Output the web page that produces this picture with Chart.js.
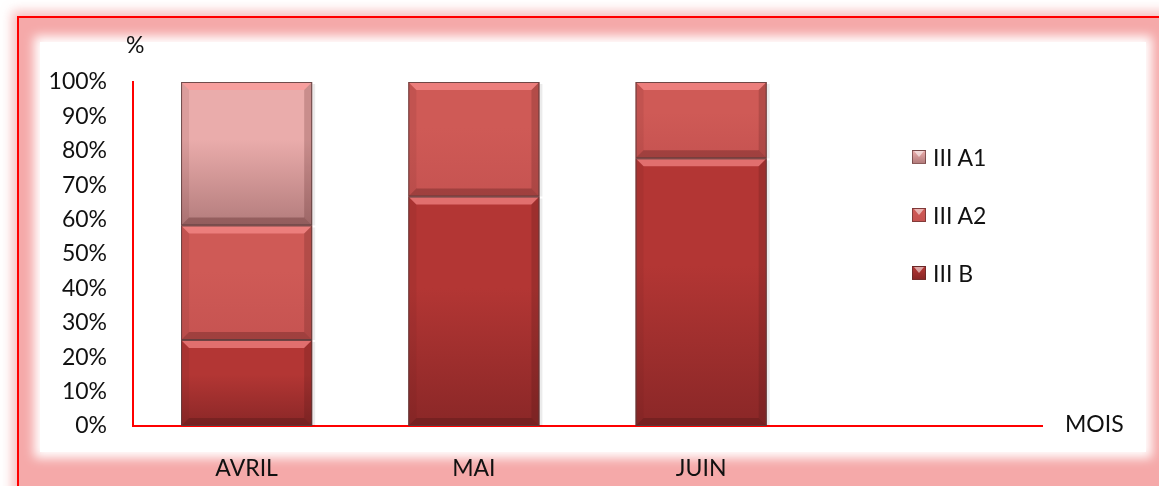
<!DOCTYPE html>
<html>
<head>
<meta charset="utf-8">
<script src="https://cdn.jsdelivr.net/npm/chart.js@4.4.1/dist/chart.umd.min.js"></script>
<style>
  html, body { margin: 0; padding: 0; background: #fff; overflow: hidden; }
  #wrap { position: relative; width: 1159px; height: 486px; overflow: hidden; background: #fff; }
  #frame {
    position: absolute; left: 17px; top: 16px; width: 1170px; height: 490px;
    border: 2px solid #ff0000; background: #f5a9a9;
    box-shadow: 0 0 10px 5px rgba(244, 165, 165, 0.7);
  }
  #inner {
    position: absolute; left: 40px; top: 42px; width: 1106px; height: 410px;
    background: #fff; box-shadow: 0 0 10px 6px #fff;
  }
  #chart { position: absolute; left: 0; top: 0; }
  #legend { position: absolute; left: 912px; top: 128px; font-family: Lato, sans-serif; font-size: 23px; color: #111; }
  .item { display: flex; align-items: center; height: 58px; }
  .box { width: 14px; height: 14px; margin-right: 7px; position: relative; box-sizing: border-box; border: 1px solid rgba(80,40,40,0.6); }
  .box::after { content: ""; position: absolute; left: 1px; top: 0; border-left: 5px solid transparent; border-right: 5px solid transparent; border-top: 6px solid rgba(255,255,255,0.55); }
</style>
</head>
<body>
<div id="wrap">
  <div id="frame"></div>
  <div id="inner"></div>
  <canvas id="chart" width="1159" height="486"></canvas>
  <div id="legend"></div>
</div>
<script>
// data (percent of each month)
const months = ['AVRIL', 'MAI', 'JUIN', ''];
const seriesNames = ['III B', 'III A2', 'III A1'];
const valuesB = [25, 66.7, 77.8, null];
const valuesA2 = [33.3, 33.3, 22.2, null];
const valuesA1 = [41.7, 0, 0, null];
const yTicks = [0, 10, 20, 30, 40, 50, 60, 70, 80, 90, 100];
const allSeries = [valuesB, valuesA2, valuesA1];

const topColors = ['#b33634', '#cf5a56', '#eaacab'];
const bottomColors = ['#8a2727', '#c65351', '#b37c7c'];

// gradient running over each segment, from its top to its base
function gradientFor(i) {
  return function (ctx) {
    const chart = ctx.chart;
    const y = chart.scales && chart.scales.y;
    if (!y || ctx.dataIndex === undefined) return topColors[i];
    let start = 0;
    for (let k = 0; k < i; k++) start += allSeries[k][ctx.dataIndex] || 0;
    const end = start + (allSeries[i][ctx.dataIndex] || 0);
    const p0 = y.getPixelForValue(end), p1 = y.getPixelForValue(start);
    if (!isFinite(p0) || !isFinite(p1) || p0 === p1) return topColors[i];
    const g = chart.ctx.createLinearGradient(0, p0, 0, p1);
    g.addColorStop(0, topColors[i]);
    g.addColorStop(0.4, topColors[i]);
    g.addColorStop(1, bottomColors[i]);
    return g;
  };
}

// bevel look on each bar segment
const bevel = {
  id: 'bevel',
  afterDatasetsDraw(chart) {
    const c = chart.ctx;
    chart.data.datasets.forEach((ds, di) => {
      chart.getDatasetMeta(di).data.forEach((bar, i) => {
        const v = ds.data[i];
        if (!v) return;
        const p = bar.getProps(['x', 'y', 'base', 'width'], true);
        const l = p.x - p.width / 2, r = p.x + p.width / 2, t = p.y, b = p.base;
        const d = 8;
        c.save();
        c.fillStyle = 'rgba(255,150,150,0.6)';
        c.beginPath(); c.moveTo(l, t); c.lineTo(r, t); c.lineTo(r - d, t + d); c.lineTo(l + d, t + d); c.closePath(); c.fill();
        c.fillStyle = 'rgba(70,20,20,0.3)';
        c.beginPath(); c.moveTo(l, b); c.lineTo(r, b); c.lineTo(r - d, b - d); c.lineTo(l + d, b - d); c.closePath(); c.fill();
        c.fillStyle = 'rgba(90,30,30,0.1)';
        c.beginPath(); c.moveTo(l, t); c.lineTo(l + d, t + d); c.lineTo(l + d, b - d); c.lineTo(l, b); c.closePath(); c.fill();
        c.fillStyle = 'rgba(70,20,20,0.2)';
        c.beginPath(); c.moveTo(r, t); c.lineTo(r - d, t + d); c.lineTo(r - d, b - d); c.lineTo(r, b); c.closePath(); c.fill();
        c.strokeStyle = 'rgba(90,60,60,0.85)';
        c.lineWidth = 1;
        c.strokeRect(l + 0.5, t + 0.5, p.width - 1, b - t - 1);
        c.fillStyle = 'rgba(0,0,0,0.08)';
        c.fillRect(r, t + 2, 3, b - t - 2);
        c.restore();
      });
    });
  }
};

// axis captions: "%" above the y axis, "MOIS" at the end of the x axis
const captions = {
  id: 'captions',
  afterDraw(chart) {
    const c = chart.ctx, a = chart.chartArea;
    c.save();
    c.fillStyle = '#111';
    c.font = '23px Lato, sans-serif';
    c.textBaseline = 'middle';
    c.textAlign = 'left';
    c.fillText('%', a.left - 7, a.top - 36);
    c.fillText('MOIS', a.right + 23, a.bottom - 1);
    c.restore();
  }
};

const datasets = allSeries.map((vals, i) => ({
  label: seriesNames[i],
  data: vals,
  backgroundColor: gradientFor(i),
  borderWidth: 0,
  categoryPercentage: 1,
  barPercentage: 0.577
}));

new Chart(document.getElementById('chart'), {
  type: 'bar',
  data: { labels: months, datasets: datasets },
  options: {
    responsive: false,
    animation: false,
    layout: { padding: { left: 0, right: 117, top: 82, bottom: 0 } },
    plugins: { legend: { display: false }, tooltip: { enabled: false } },
    scales: {
      x: {
        stacked: true,
        grid: { display: false, drawTicks: false },
        border: { color: '#ff0000', width: 2 },
        ticks: { color: '#111', font: { family: 'Lato', size: 23 }, padding: 29 },
        afterFit(s) { s.height = 60; }
      },
      y: {
        stacked: true,
        min: 0, max: 100,
        afterBuildTicks(s) { s.ticks = yTicks.map(v => ({ value: v })); },
        grid: { display: false, drawTicks: false },
        border: { color: '#ff0000', width: 2 },
        ticks: { color: '#111', font: { family: 'Lato', size: 23 }, padding: 26, callback: v => v + '%' },
        afterFit(s) { s.width = 133; }
      }
    }
  },
  plugins: [bevel, captions]
});

// legend from the series names, top series first
const legend = document.getElementById('legend');
[2, 1, 0].forEach(i => {
  const item = document.createElement('div');
  item.className = 'item';
  const box = document.createElement('span');
  box.className = 'box';
  box.style.background = 'linear-gradient(' + topColors[i] + ',' + bottomColors[i] + ')';
  const txt = document.createElement('span');
  txt.textContent = seriesNames[i];
  item.appendChild(box);
  item.appendChild(txt);
  legend.appendChild(item);
});
</script>
</body>
</html>
